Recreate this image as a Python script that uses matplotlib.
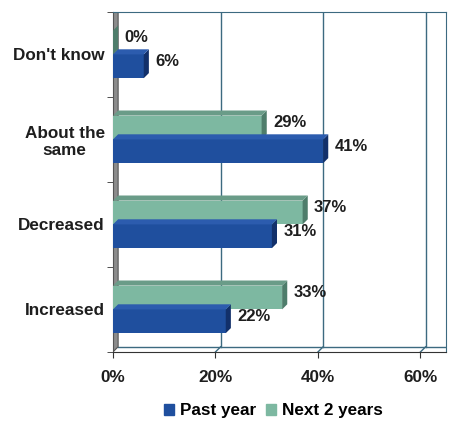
import numpy as np
import matplotlib.pyplot as plt
from matplotlib.patches import Polygon

plt.rcParams['font.family'] = ['Liberation Sans', 'DejaVu Sans']
plt.rcParams['font.weight'] = 'bold'

# data (bottom to top)
categories = ['Increased', 'Decreased', 'About the\nsame', "Don't know"]
past_year = [22, 31, 41, 6]
next_2_years = [33, 37, 29, 0]
xticks = [0, 20, 40, 60]

# style
blue = '#1f4f9e'
blue_side = '#12306a'
blue_top = '#2c5cae'
green = '#7db8a1'
green_side = '#4e7d6b'
green_top = '#6a9c88'
dx, dy = 1.0, 0.06   # fake 3D depth in data units
h = 0.28

fig = plt.figure(figsize=(4.52, 4.25), dpi=100)
ax = fig.add_axes([0.25, 0.172, 0.737, 0.80])
ax.set_xlim(0, 65)
ax.set_ylim(-0.5, 3.5)

# back wall gridlines (shifted by depth)
for t in xticks[1:]:
    ax.plot([t + dx, t + dx], [-0.5 + dy, 3.5], color='#3c6a80', lw=1.0, zorder=0)
    ax.plot([t, t + dx], [-0.5, -0.5 + dy], color='#3c6a80', lw=1.0, zorder=0)
# left wall and floor
ax.add_patch(Polygon([(0, -0.5), (dx, -0.5 + dy), (dx, 3.5), (0, 3.5)],
                     closed=True, fc='#8c8c8c', ec='#555555', lw=0.8, zorder=1))
ax.plot([dx, 65], [-0.5 + dy, -0.5 + dy], color='#3c6a80', lw=1.0, zorder=0)

y = np.arange(len(categories))


def bars3d(ypos, vals, front, side, top):
    ax.barh(ypos, vals, height=h, color=front, zorder=3)
    for yc, v in zip(ypos, vals):
        y0, y1 = yc - h / 2, yc + h / 2
        ax.add_patch(Polygon([(v, y0), (v + dx, y0 + dy), (v + dx, y1 + dy), (v, y1)],
                             closed=True, fc=side, ec='none', zorder=4))
        ax.add_patch(Polygon([(0, y1), (dx, y1 + dy), (v + dx, y1 + dy), (v, y1)],
                             closed=True, fc=top, ec='none', zorder=4))
        ax.text(v + dx + 1.2, yc + dy, f'{v}%', va='center', ha='left',
                fontsize=12, fontweight='bold', color='#1e1e1e', zorder=5)


bars3d(y + h / 2, next_2_years, green, green_side, green_top)
bars3d(y - h / 2, past_year, blue, blue_side, blue_top)

ax.set_yticks(y)
ax.set_yticklabels(categories, fontsize=12.3, fontweight='bold', color='#1e1e1e',
                   multialignment='center')
ax.set_yticks(np.arange(-0.5, 3.6, 1.0), minor=True)
ax.tick_params(axis='y', which='major', length=0, pad=6)
ax.tick_params(axis='y', which='minor', length=4, color='#333333')

ax.set_xticks(xticks)
ax.set_xticklabels([f'{t}%' for t in xticks], fontsize=12.3, fontweight='bold', color='#1e1e1e')
ax.tick_params(axis='x', length=4, color='#333333', pad=9)

for s in ['top', 'right']:
    ax.spines[s].set_color('#3c6a80')
ax.spines['left'].set_color('#555555')
ax.spines['bottom'].set_color('#333333')

handles = [plt.Rectangle((0, 0), 1, 1, color=blue), plt.Rectangle((0, 0), 1, 1, color=green)]
fig.legend(handles, ['Past year', 'Next 2 years'], loc='lower center',
           bbox_to_anchor=(0.605, -0.02), ncol=2, frameon=False,
           prop={'size': 12.3, 'weight': 'bold'}, handlelength=0.6, handleheight=0.6,
           handletextpad=0.35, columnspacing=0.6)

fig.savefig('out.png', dpi=100)
